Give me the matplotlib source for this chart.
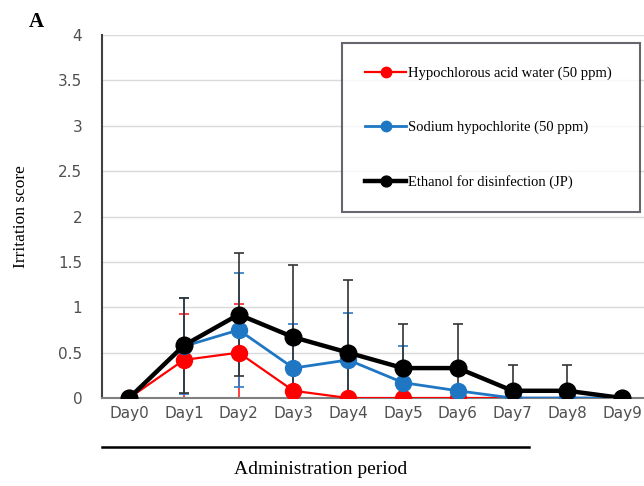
import matplotlib
matplotlib.use("Agg")
import matplotlib.pyplot as plt
import matplotlib.transforms as mtransforms

days = ["Day0", "Day1", "Day2", "Day3", "Day4", "Day5", "Day6", "Day7", "Day8", "Day9"]
hypo_mean = [0, 0.42, 0.50, 0.08, 0, 0, 0, 0, 0, 0]
hypo_sd = [0, 0.51, 0.54, 0, 0, 0, 0, 0, 0, 0]
sodium_mean = [0, 0.57, 0.75, 0.33, 0.42, 0.17, 0.08, 0, 0, 0]
sodium_sd = [0, 0.53, 0.63, 0.49, 0.52, 0.40, 0, 0, 0, 0]
ethanol_mean = [0, 0.58, 0.92, 0.67, 0.50, 0.33, 0.33, 0.08, 0.08, 0]
ethanol_sd = [0, 0.52, 0.68, 0.80, 0.80, 0.49, 0.49, 0.28, 0.28, 0]
yticks = [0, 0.5, 1, 1.5, 2, 2.5, 3, 3.5, 4]
ytick_labels = ["0", "0.5", "1", "1.5", "2", "2.5", "3", "3.5", "4"]
labels = ["Hypochlorous acid water (50 ppm)", "Sodium hypochlorite (50 ppm)",
          "Ethanol for disinfection (JP)"]

serif = "Liberation Serif"

fig = plt.figure(figsize=(6.44, 4.86), dpi=100)
ax = fig.add_axes([0.158, 0.181, 0.842, 0.747])

x = list(range(len(days)))

series = [
    (hypo_mean, hypo_sd, "#ff0000", 1.6, 11.5, labels[0]),
    (sodium_mean, sodium_sd, "#1f77c4", 2.0, 11.5, labels[1]),
    (ethanol_mean, ethanol_sd, "#000000", 3.2, 12.0, labels[2]),
]
ecolors = ["#ff2020", "#2a7bc8", "#333333"]

handles = []
for i, (m, s, c, lw, ms, lab) in enumerate(series):
    ax.errorbar(x, m, yerr=s, fmt="none", ecolor=ecolors[i], elinewidth=1.2,
                capsize=3.8, capthick=1.2, zorder=2 + i * 0.1)
for i, (m, s, c, lw, ms, lab) in enumerate(series):
    ln, = ax.plot(x, m, color=c, lw=lw, marker="o", ms=ms, zorder=4 + i, label=lab)
    handles.append(ln)

ax.set_xlim(-0.5, 9.4)
ax.set_ylim(0, 4)
ax.set_yticks(yticks)
ax.set_yticklabels(ytick_labels)
ax.set_xticks(x)
ax.set_xticklabels(days)
ax.yaxis.grid(True, color="#d9d9d9", lw=1.0)
ax.set_axisbelow(True)
ax.tick_params(axis="both", length=0, labelsize=11, labelcolor="#505050")
ax.tick_params(axis="y", pad=14)
ax.tick_params(axis="x", pad=6)
for sp in ["top", "right"]:
    ax.spines[sp].set_visible(False)
ax.spines["left"].set_color("#404040")
ax.spines["left"].set_linewidth(1.5)
ax.spines["bottom"].set_color("#808080")
ax.spines["bottom"].set_linewidth(1.5)

ax.set_ylabel("Irritation score", fontfamily=serif, fontsize=12.5, labelpad=21)

# administration period line
trans = mtransforms.blended_transform_factory(ax.transData, ax.transAxes)
ax.plot([-0.5, 7.3], [-0.135, -0.135], color="black", lw=1.8, transform=trans,
        clip_on=False)
ax.text(3.5, -0.198, "Administration period", transform=trans, ha="center",
        va="center", fontfamily=serif, fontsize=14)

fig.text(0.045, 0.955, "A", fontfamily=serif, fontweight="bold", fontsize=15,
         ha="left", va="center")

leg = ax.legend(handles=handles, loc="upper left",
                bbox_to_anchor=(0.443, 0.512, 0.55, 0.466), mode="expand",
                prop={"family": serif, "size": 10.5}, frameon=True, fancybox=False,
                labelspacing=2.8, borderpad=1.6, handlelength=2.8, handletextpad=0.1,
                markerscale=0.65, borderaxespad=0)
leg.get_frame().set_edgecolor("#40404a")
leg.get_frame().set_linewidth(1.5)

fig.savefig("out.png", dpi=100)
